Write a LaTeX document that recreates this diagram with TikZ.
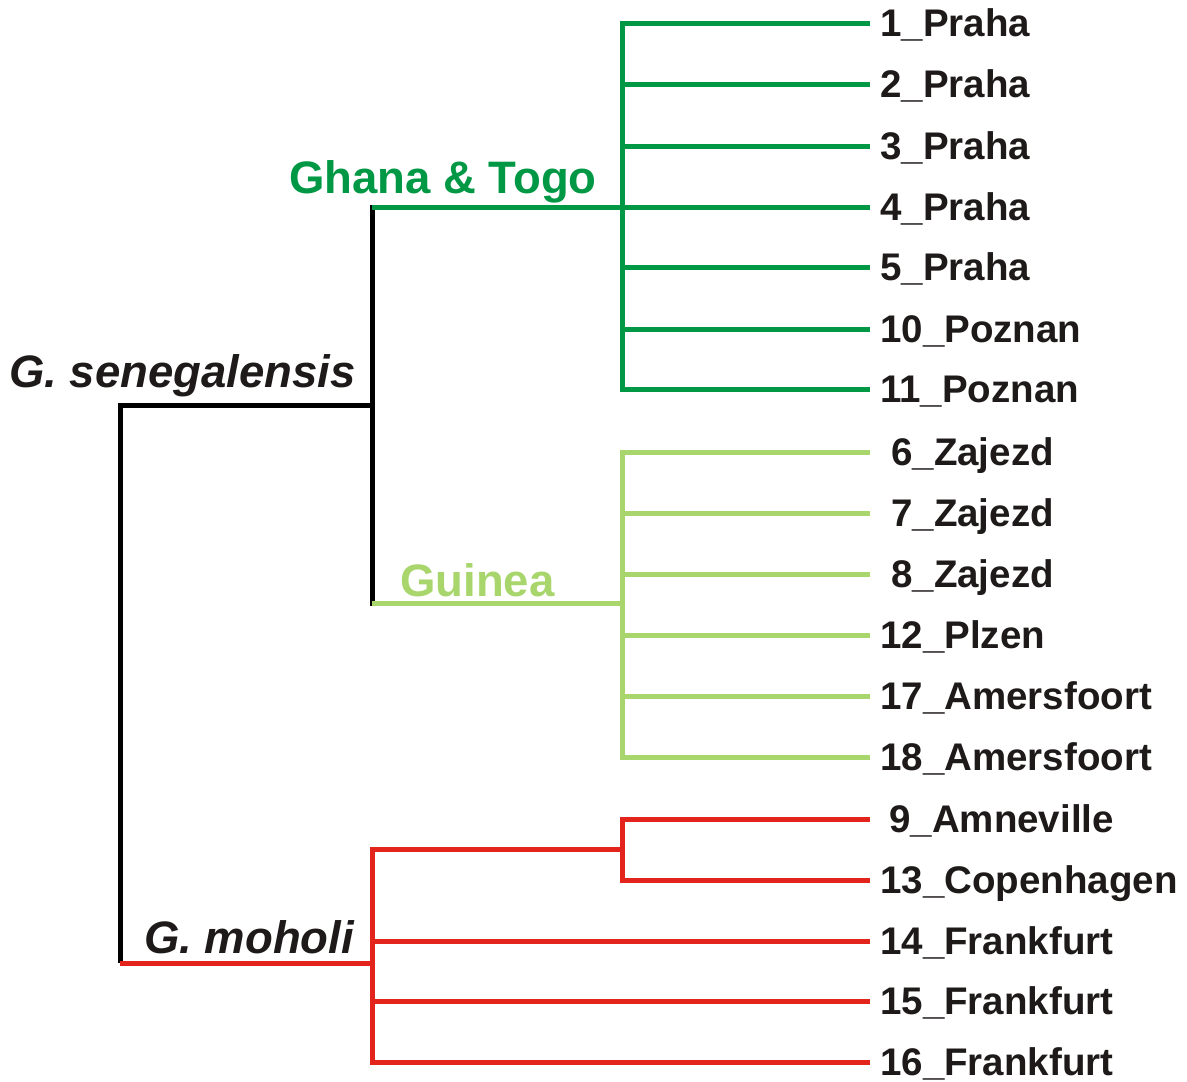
\documentclass[tikz,border=0pt]{standalone}
\usepackage{fontspec}
\setmainfont{Liberation Sans}
\definecolor{dkgreen}{RGB}{0,152,68}
\definecolor{ltgreen}{RGB}{168,214,108}
\definecolor{treered}{RGB}{226,36,28}
\definecolor{txtblack}{RGB}{30,26,26}
\begin{document}
\begin{tikzpicture}[x=1pt,y=-1pt,
  branch/.style={line width=5pt, line join=miter},
  bar/.style={line width=5pt, line cap=rect},
  leaf/.style={anchor=west, inner xsep=10pt, inner ysep=0pt, text height=27pt, text depth=0pt,
    text=txtblack, font=\fontsize{38.5}{40}\selectfont\bfseries},
  clade/.style={anchor=base west, inner sep=0pt, font=\fontsize{45.5}{47}\selectfont\bfseries}]
\useasboundingbox[fill=white] (0,0) rectangle (1187,1082);

% internal coordinates
\coordinate (rt) at (120,405);
\coordinate (rb) at (120,963);
\coordinate (sen) at (372,405);
\coordinate (senT) at (372,207);
\coordinate (senB) at (372,603);
\coordinate (ght) at (622,23);
\coordinate (ghb) at (622,389);
\coordinate (ghm) at (622,207);
\coordinate (gut) at (622,452);
\coordinate (gub) at (622,757);
\coordinate (gum) at (622,603);
\coordinate (moh) at (372,963);
\coordinate (moT) at (372,849);
\coordinate (moB) at (372,1062);
\coordinate (amt) at (622,819);
\coordinate (amb) at (622,880);
\coordinate (amm) at (622,849);

% leaves
\node[leaf] (l1)  at (870,23)  {1\_Praha};
\node[leaf] (l2)  at (870,84)  {2\_Praha};
\node[leaf] (l3)  at (870,146) {3\_Praha};
\node[leaf] (l4)  at (870,207) {4\_Praha};
\node[leaf] (l5)  at (870,267) {5\_Praha};
\node[leaf] (l10) at (870,329) {10\_Poznan};
\node[leaf] (l11) at (870,389) {11\_Poznan};
\node[leaf, inner xsep=0pt] (l6) at (870,452) {\hspace{21pt}6\_Zajezd};
\node[leaf, inner xsep=0pt] (l7)  at (870,513) {\hspace{21pt}7\_Zajezd};
\node[leaf, inner xsep=0pt] (l8)  at (870,574) {\hspace{21pt}8\_Zajezd};
\node[leaf] (l12) at (870,635) {12\_Plzen};
\node[leaf] (l17) at (870,696) {17\_Amersfoort};
\node[leaf] (l18) at (870,757) {18\_Amersfoort};
\node[leaf, inner xsep=0pt] (l9) at (870,819) {\hspace{19pt}9\_Amneville};
\node[leaf] (l13) at (870,880) {13\_Copenhagen};
\node[leaf] (l14) at (870,941) {14\_Frankfurt};
\node[leaf] (l15) at (870,1001) {15\_Frankfurt};
\node[leaf] (l16) at (870,1062) {16\_Frankfurt};

% root
\draw[branch] (sen) -- (rt) -- (rb);
\draw[branch, treered] (rb) -- (moh);
\draw[bar] (senT) -- (senB);

% Ghana & Togo
\draw[branch, dkgreen] (senT) -- (l4.west);
\draw[bar, dkgreen] (ght) -- (ghb);
\foreach \l/\yy in {l1/23,l2/84,l3/146,l5/267,l10/329,l11/389}
  \draw[branch, dkgreen] (622,\yy) -- (\l.west);

% Guinea
\draw[branch, ltgreen] (senB) -- (gum);
\draw[bar, ltgreen] (gut) -- (gub);
\foreach \l/\yy in {l6/452,l7/513,l8/574,l12/635,l17/696,l18/757}
  \draw[branch, ltgreen] (622,\yy) -- (\l.west);

% moholi
\draw[bar, treered] (moT) -- (moB);
\draw[branch, treered] (moT) -- (amm);
\draw[bar, treered] (amt) -- (amb);
\draw[branch, treered] (amt) -- (l9.west);
\draw[branch, treered] (amb) -- (l13.west);
\foreach \l/\yy in {l14/941,l15/1001,l16/1062}
  \draw[branch, treered] (372,\yy) -- (\l.west);

% clade labels
\node[clade, text=dkgreen] (cgt) at (289,193) {Ghana \& Togo};
\node[clade, text=ltgreen] (cgu) at (400,596) {Guinea};
\node[clade, text=txtblack] (csen) at (9,387) {\itshape G. senegalensis};
\node[clade, text=txtblack] (cmoh) at (144,953) {\itshape G. moholi};
\end{tikzpicture}
\end{document}
